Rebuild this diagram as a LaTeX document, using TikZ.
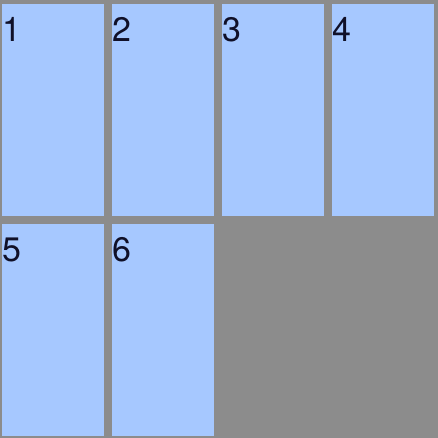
\documentclass[tikz,border=0pt]{standalone}
\usepackage{fontspec}
\setmainfont{TeX Gyre Heros}
\definecolor{bggrey}{RGB}{140,140,140}
\definecolor{cellblue}{RGB}{166,200,255}
\definecolor{txt}{RGB}{16,16,40}
\begin{document}
\begin{tikzpicture}[x=1pt,y=-1pt,
  cell/.style={fill=cellblue,draw=none},
  lbl/.style={anchor=base west,inner sep=0pt,text=txt,font=\fontsize{34}{34}\selectfont}]
\fill[bggrey] (0,0) rectangle (438,438);
\useasboundingbox (0,0) rectangle (438,438);
\foreach \i/\x/\y in {1/2/4,2/112/4,3/222/4,4/332/4,5/2/224,6/112/224}{
  \path[cell] (\x,\y) rectangle ++(102,212);
  \node[lbl] (c\i) at (\x,\y+37.5) {\i};
}
\end{tikzpicture}
\end{document}
